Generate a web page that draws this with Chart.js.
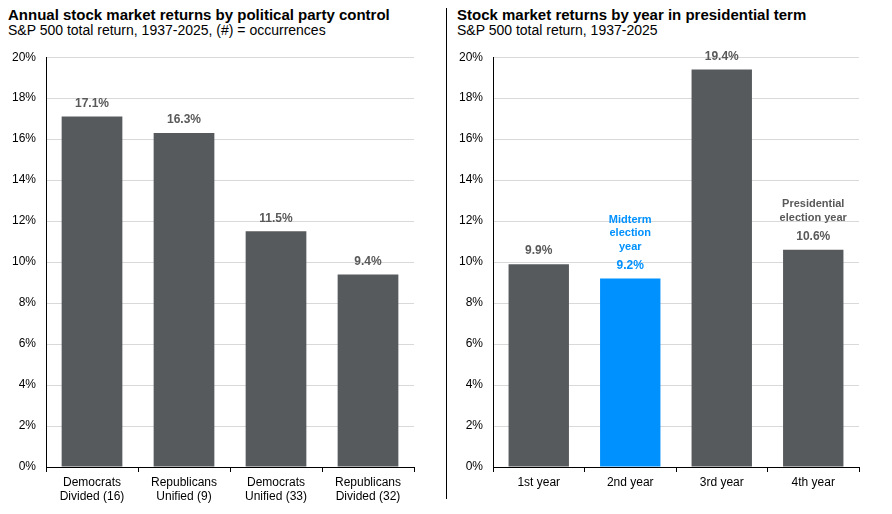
<!DOCTYPE html>
<html>
<head>
<meta charset="utf-8">
<script src="https://cdn.jsdelivr.net/npm/chart.js@4"></script>
<style>
  body { margin: 0; background: #fff; font-family: "Liberation Sans", Arial, sans-serif; }
  #wrap { position: relative; width: 892px; height: 514px; }
  .title { position: absolute; font-weight: bold; font-size: 15px; color: #000; white-space: nowrap; }
  .sub { position: absolute; font-size: 14px; color: #000; white-space: nowrap; }
  .box { position: absolute; top: 40px; height: 470px; }
  #divider { position: absolute; left: 446px; top: 8px; width: 1px; height: 491px; background: #000; }
</style>
</head>
<body>
<div id="wrap">
  <div class="title" style="left:8px; top:6px;">Annual stock market returns by political party control</div>
  <div class="sub" style="left:8px; top:22px;">S&amp;P 500 total return, 1937-2025, (#) = occurrences</div>
  <div class="title" style="left:457px; top:6px;">Stock market returns by year in presidential term</div>
  <div class="sub" style="left:457px; top:22px;">S&amp;P 500 total return, 1937-2025</div>
  <div id="divider"></div>
  <div class="box" style="left:0; width:446px;"><canvas id="left"></canvas></div>
  <div class="box" style="left:448px; width:444px;"><canvas id="right"></canvas></div>
</div>
<script>
// data
const partyLabels = [['Democrats', 'Divided (16)'], ['Republicans', 'Unified (9)'], ['Democrats', 'Unified (33)'], ['Republicans', 'Divided (32)']];
const partyReturns = [17.1, 16.3, 11.5, 9.4];
const termLabels = ['1st year', '2nd year', '3rd year', '4th year'];
const termReturns = [9.9, 9.2, 19.4, 10.6];
const termNotes = [null, ['Midterm', 'election', 'year'], null, ['Presidential', 'election year']];
const yTicks = [0, 2, 4, 6, 8, 10, 12, 14, 16, 18, 20];

const FONT = '"Liberation Sans", Arial, sans-serif';
const GRAY = '#575a5d';
const BLUE = '#0091ff';
const LABEL = '#595959';

// draws the value labels (and notes) above each bar
const valueLabels = {
    id: 'valueLabels',
    afterDatasetsDraw(chart, args, opts) {
        const ctx = chart.ctx;
        const meta = chart.getDatasetMeta(0);
        const values = chart.data.datasets[0].data;
        ctx.save();
        ctx.textAlign = 'center';
        ctx.textBaseline = 'middle';
        meta.data.forEach((bar, i) => {
            const color = opts.colors ? opts.colors[i] : LABEL;
            ctx.fillStyle = color;
            ctx.font = 'bold 12px ' + FONT;
            const y = bar.y - 13;
            ctx.fillText(values[i].toFixed(1) + '%', bar.x, y);
            const note = opts.notes ? opts.notes[i] : null;
            if (note) {
                ctx.font = 'bold 11px ' + FONT;
                let ny = y - 19;
                for (let k = note.length - 1; k >= 0; k--) {
                    ctx.fillText(note[k], bar.x, ny);
                    ny -= 13.5;
                }
            }
        });
        ctx.restore();
    }
};

function makeChart(id, labels, values, colors, labelColors, notes, yWidth, rightPad, xHeight) {
    return new Chart(document.getElementById(id), {
        type: 'bar',
        data: {
            labels: labels,
            datasets: [{
                data: values,
                backgroundColor: colors,
                barPercentage: 0.66,
                categoryPercentage: 1
            }]
        },
        options: {
            responsive: true,
            maintainAspectRatio: false,
            animation: false,
            layout: { padding: { top: 7, right: rightPad, left: 0, bottom: 0 } },
            plugins: {
                legend: { display: false },
                tooltip: { enabled: false },
                valueLabels: { colors: labelColors, notes: notes }
            },
            scales: {
                x: {
                    afterFit: (s) => { s.height = xHeight; },
                    grid: { offset: true, drawOnChartArea: false, color: '#000', tickLength: 5 },
                    border: { color: '#000' },
                    ticks: { color: '#000', font: { family: FONT, size: 12 }, padding: 3, maxRotation: 0 }
                },
                y: {
                    min: 0,
                    max: 20,
                    afterFit: (s) => { s.width = yWidth; },
                    afterBuildTicks: (s) => { s.ticks = yTicks.map(v => ({ value: v })); },
                    grid: { color: '#d9d9d9', drawTicks: false },
                    border: { color: '#000' },
                    ticks: {
                        color: '#000',
                        font: { family: FONT, size: 12 },
                        padding: 10,
                        callback: (v) => v + '%'
                    }
                }
            }
        },
        plugins: [valueLabels]
    });
}

makeChart('left', partyLabels, partyReturns,
    partyReturns.map(() => GRAY), partyReturns.map(() => LABEL), null, 46, 32, 43);

makeChart('right', termLabels, termReturns,
    [GRAY, BLUE, GRAY, GRAY], [LABEL, BLUE, LABEL, LABEL], termNotes, 45, 33, 43);
</script>
</body>
</html>
